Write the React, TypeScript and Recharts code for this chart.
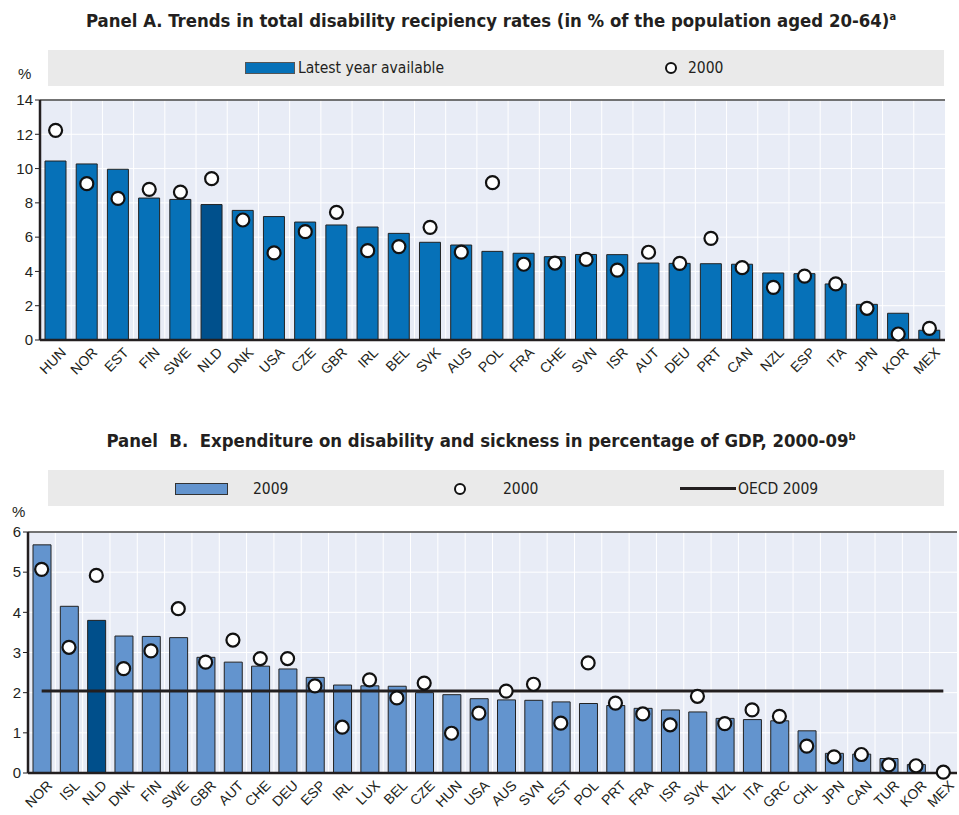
import React from 'react'
import { ComposedChart, Bar, Line, Cell, XAxis, YAxis, CartesianGrid, ReferenceLine } from 'recharts'

// Panel A: disability recipiency rates, % of population aged 20-64
const countriesA = ['HUN', 'NOR', 'EST', 'FIN', 'SWE', 'NLD', 'DNK', 'USA', 'CZE', 'GBR', 'IRL', 'BEL', 'SVK', 'AUS',
  'POL', 'FRA', 'CHE', 'SVN', 'ISR', 'AUT', 'DEU', 'PRT', 'CAN', 'NZL', 'ESP', 'ITA', 'JPN', 'KOR', 'MEX']
const latestA = [10.44, 10.27, 9.96, 8.28, 8.2, 7.9, 7.56, 7.2, 6.88, 6.71, 6.59, 6.22, 5.7, 5.54,
  5.17, 5.06, 4.86, 4.99, 4.98, 4.49, 4.47, 4.45, 4.42, 3.91, 3.87, 3.27, 2.08, 1.56, 0.57]
const y2000A = [12.23, 9.12, 8.26, 8.79, 8.63, 9.41, 7.0, 5.08, 6.32, 7.45, 5.21, 5.45, 6.57, 5.13,
  9.18, 4.42, 4.49, 4.7, 4.08, 5.12, 4.47, 5.93, 4.22, 3.07, 3.73, 3.27, 1.85, 0.35, 0.68]
const ticksA = [0, 2, 4, 6, 8, 10, 12, 14]

// Panel B: expenditure on disability and sickness, % of GDP
const countriesB = ['NOR', 'ISL', 'NLD', 'DNK', 'FIN', 'SWE', 'GBR', 'AUT', 'CHE', 'DEU', 'ESP', 'IRL', 'LUX', 'BEL',
  'CZE', 'HUN', 'USA', 'AUS', 'SVN', 'EST', 'POL', 'PRT', 'FRA', 'ISR', 'SVK', 'NZL', 'ITA', 'GRC', 'CHL', 'JPN',
  'CAN', 'TUR', 'KOR', 'MEX']
const y2009B = [5.68, 4.15, 3.8, 3.41, 3.4, 3.37, 2.88, 2.76, 2.66, 2.59, 2.38, 2.19, 2.17, 2.16,
  2.0, 1.95, 1.85, 1.82, 1.81, 1.77, 1.73, 1.68, 1.61, 1.57, 1.52, 1.36, 1.33, 1.3, 1.05, 0.49,
  0.47, 0.36, 0.21, null]
const y2000B = [5.07, 3.13, 4.92, 2.6, 3.04, 4.09, 2.76, 3.31, 2.85, 2.85, 2.17, 1.14, 2.32, 1.87,
  2.24, 0.99, 1.49, 2.04, 2.21, 1.24, 2.74, 1.74, 1.47, 1.2, 1.91, 1.23, 1.57, 1.41, 0.67, 0.4,
  0.46, 0.2, 0.18, 0.02]
const oecd2009 = 2.04
const ticksB = [0, 1, 2, 3, 4, 5, 6]

const highlight = 'NLD'

const dataA = countriesA.map((c, i) => ({ c, latest: latestA[i], y2000: y2000A[i] }))
const dataB = countriesB.map((c, i) => ({ c, y2009: y2009B[i], y2000: y2000B[i] }))

const tickFont = '"Liberation Sans", Arial, sans-serif'
const narrowFont = '"Liberation Sans Narrow", "Arial Narrow", "DejaVu Sans Condensed", sans-serif'
const plotBg = '#E8ECF6'
const axisColor = '#231F20'

// rotated country labels, top-right end sits just under the bar centre
const AngledTick = (props: any) => {
  const { x, y, payload } = props
  return (
    <g transform={`translate(${x + 4},${y - 2})`}>
      <text
        x={0}
        y={0}
        dy="0.75em"
        transform="rotate(-45)"
        textAnchor="end"
        fontSize={14}
        fontFamily={tickFont}
        fill={axisColor}
      >
        {payload.value}
      </text>
    </g>
  )
}

const bandLines = (n: number) => (args: any) => {
  const { offset } = args
  const out: number[] = []
  for (let i = 1; i < n; i++) out.push(offset.left + (i * offset.width) / n)
  return out
}

const dot2000 = { r: 6.5, fill: '#fff', stroke: '#111', strokeWidth: 2.2 }

function PanelA() {
  return (
    <ComposedChart width={959} height={300} data={dataA} margin={{ top: 10, right: 14, left: 0, bottom: 0 }}>
      <CartesianGrid
        fill={plotBg}
        stroke="#ffffff"
        strokeWidth={1}
        verticalCoordinatesGenerator={bandLines(countriesA.length)}
      />
      <XAxis
        dataKey="c"
        interval={0}
        tickLine={false}
        height={50}
        axisLine={{ stroke: axisColor, strokeWidth: 2.5 }}
        tick={<AngledTick />}
      />
      <YAxis
        domain={[0, 14]}
        ticks={ticksA}
        width={40}
        tickSize={5}
        axisLine={{ stroke: axisColor, strokeWidth: 2.5 }}
        tickLine={{ stroke: axisColor }}
        tick={{ fontSize: 15, fontFamily: tickFont, fill: axisColor }}
      />
      <ReferenceLine y={14} stroke="#444" strokeWidth={1.5} />
      <ReferenceLine x="MEX" position="end" stroke="#444" strokeWidth={1.5} />
      <Bar dataKey="latest" barSize={21} stroke="#222" strokeWidth={1} isAnimationActive={false}>
        {dataA.map((d) => (
          <Cell key={d.c} fill={d.c === highlight ? '#00508C' : '#0671B8'} />
        ))}
      </Bar>
      <Line dataKey="y2000" stroke="none" dot={dot2000} activeDot={false} isAnimationActive={false} />
    </ComposedChart>
  )
}

function PanelB() {
  return (
    <ComposedChart width={959} height={295} data={dataB} margin={{ top: 12, right: 2, left: 0, bottom: 0 }}>
      <CartesianGrid
        fill={plotBg}
        stroke="#ffffff"
        strokeWidth={1}
        verticalCoordinatesGenerator={bandLines(countriesB.length)}
      />
      <XAxis
        dataKey="c"
        interval={0}
        tickLine={false}
        height={42}
        axisLine={{ stroke: axisColor, strokeWidth: 2.5 }}
        tick={<AngledTick />}
      />
      <YAxis
        domain={[0, 6]}
        ticks={ticksB}
        width={28}
        tickSize={5}
        axisLine={{ stroke: axisColor, strokeWidth: 2.5 }}
        tickLine={{ stroke: axisColor }}
        tick={{ fontSize: 15, fontFamily: tickFont, fill: axisColor }}
      />
      <ReferenceLine y={6} stroke="#444" strokeWidth={1.5} />
      <ReferenceLine x="MEX" position="end" stroke="#444" strokeWidth={1.5} />
      <Bar dataKey="y2009" barSize={18} stroke="#222" strokeWidth={1} isAnimationActive={false}>
        {dataB.map((d) => (
          <Cell key={d.c} fill={d.c === highlight ? '#004F8B' : '#6394CE'} />
        ))}
      </Bar>
      <ReferenceLine
        segment={[{ x: 'NOR', y: oecd2009 }, { x: 'MEX', y: oecd2009 }]}
        stroke="#231F20"
        strokeWidth={3}
      />
      <Line dataKey="y2000" stroke="none" dot={dot2000} activeDot={false} isAnimationActive={false} />
    </ComposedChart>
  )
}

const abs = (left: number, top: number, extra: React.CSSProperties = {}): React.CSSProperties => ({
  position: 'absolute', left, top, ...extra,
})

const legendText: React.CSSProperties = { fontFamily: narrowFont, fontSize: 15.5, color: '#231F20', lineHeight: '18px' }
const titleText: React.CSSProperties = {
  fontFamily: narrowFont, fontWeight: 'bold', fontSize: 18.4, color: '#231F20', whiteSpace: 'nowrap',
  transform: 'translateX(-50%)', lineHeight: '22px',
}

export default function App() {
  return (
    <div style={{ position: 'absolute', left: 0, top: 0, width: 959, height: 815, background: '#fff', overflow: 'hidden' }}>
      {/* Panel A */}
      <div style={abs(491, 6, titleText)}>
        Panel A. Trends in total disability recipiency rates (in % of the population aged 20-64)
        <sup style={{ fontSize: 11 }}>a</sup>
      </div>
      <div style={abs(48, 50, { width: 896, height: 36, background: '#EAEAEA' })} />
      <div style={abs(18, 65, { ...legendText, fontFamily: tickFont, fontSize: 15 })}>%</div>
      <div style={abs(245, 62, { width: 50, height: 12, background: '#0671B8', border: '1px solid #555', boxSizing: 'border-box' })} />
      <div style={abs(298, 59, legendText)}>Latest year available</div>
      <div style={abs(665, 62, { width: 12, height: 12, borderRadius: '50%', border: '2px solid #111', boxSizing: 'border-box', background: '#fff' })} />
      <div style={abs(688, 59, legendText)}>2000</div>
      <div style={abs(0, 90)}>
        <PanelA />
      </div>

      {/* Panel B */}
      <div style={abs(481, 426, titleText)}>
        Panel&nbsp; B.&nbsp; Expenditure on disability and sickness in percentage of GDP, 2000-09
        <sup style={{ fontSize: 11 }}>b</sup>
      </div>
      <div style={abs(48, 470, { width: 896, height: 36, background: '#EAEAEA' })} />
      <div style={abs(12, 503, { ...legendText, fontFamily: tickFont, fontSize: 15 })}>%</div>
      <div style={abs(175, 483, { width: 53, height: 12, background: '#6394CE', border: '1px solid #333', boxSizing: 'border-box' })} />
      <div style={abs(253, 480, legendText)}>2009</div>
      <div style={abs(454, 483, { width: 12, height: 12, borderRadius: '50%', border: '2px solid #111', boxSizing: 'border-box', background: '#fff' })} />
      <div style={abs(503, 480, legendText)}>2000</div>
      <div style={abs(680, 487, { width: 56, height: 3, background: '#231F20' })} />
      <div style={abs(738, 480, legendText)}>OECD 2009</div>
      <div style={abs(0, 520)}>
        <PanelB />
      </div>
    </div>
  )
}
